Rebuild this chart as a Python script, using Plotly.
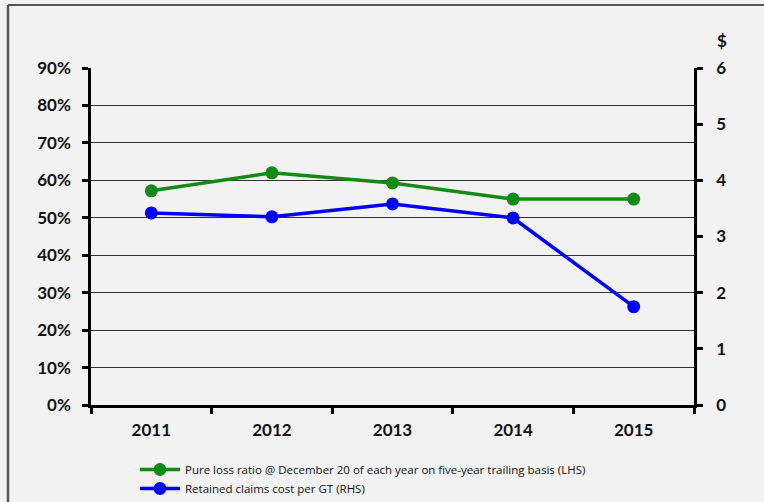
import plotly.graph_objects as go

years = ["2011", "2012", "2013", "2014", "2015"]
loss_ratio = [0.572, 0.62, 0.593, 0.55, 0.55]
claims_cost = [3.42, 3.35, 3.58, 3.33, 1.75]
left_ticks = [0, 0.1, 0.2, 0.3, 0.4, 0.5, 0.6, 0.7, 0.8, 0.9]
right_ticks = [0, 1, 2, 3, 4, 5, 6]
name_green = "Pure loss ratio @ December 20 of each year on five-year trailing basis (LHS)"
name_blue = "Retained claims cost per GT (RHS)"

W, H = 764, 502
L, R, T, B = 91, 70, 68, 97
pw, ph = W - L - R, H - T - B

fig = go.Figure()
fig.add_trace(go.Scatter(x=years, y=loss_ratio, name=name_green, mode="lines+markers",
                         line=dict(color="#138a13", width=3.5),
                         marker=dict(color="#138a13", size=13)))
fig.add_trace(go.Scatter(x=years, y=claims_cost, name=name_blue, mode="lines+markers",
                         yaxis="y2",
                         line=dict(color="#0000ff", width=3.5),
                         marker=dict(color="#0000ff", size=13)))

tickfont = dict(family="Lato", size=17, color="#111111", weight="bold")

fig.update_layout(
    width=W, height=H,
    margin=dict(l=L, r=R, t=T, b=B, autoexpand=False),
    paper_bgcolor="#f2f2f2", plot_bgcolor="#f2f2f2",
    showlegend=True,
    legend=dict(x=(135 - L) / pw, y=-(455 - 405) / ph, xanchor="left", yanchor="top",
                font=dict(family="Open Sans", size=11.5, color="#111111"),
                bgcolor="rgba(0,0,0,0)", tracegroupgap=0, itemwidth=40),
    xaxis=dict(type="category", showgrid=False, showline=True, linecolor="black",
               linewidth=2.5, ticks="outside", tickson="boundaries", ticklen=6,
               tickwidth=2.5, tickcolor="black", tickfont=tickfont,
               ticklabelstandoff=8, zeroline=False, range=[-0.5, 4.5]),
    yaxis=dict(range=[0, 0.9], tickvals=left_ticks, tickformat=".0%",
               showgrid=True, gridcolor="#333333", gridwidth=1,
               showline=True, linecolor="black", linewidth=2.5,
               ticks="outside", ticklen=6, tickwidth=2.5, tickcolor="black",
               tickfont=tickfont, ticklabelstandoff=8, zeroline=False),
    yaxis2=dict(range=[0, 6], tickvals=right_ticks, overlaying="y", side="right",
                showgrid=False, showline=True, linecolor="black", linewidth=2.5,
                ticks="outside", ticklen=6, tickwidth=2.5, tickcolor="black",
                tickfont=tickfont, ticklabelstandoff=10, zeroline=False),
)

fig.add_annotation(x=(722 - L) / pw, y=(405 - 40) / ph, xref="paper", yref="paper",
                   xanchor="center", yanchor="middle",
                   text="$", showarrow=False, font=tickfont)

# outer frame
fig.add_shape(type="line", xref="paper", yref="paper",
              x0=(8 - L) / pw, x1=(8 - L) / pw, y0=(405 - 5) / ph, y1=(405 - 510) / ph,
              line=dict(color="#555555", width=2.5))
fig.add_shape(type="line", xref="paper", yref="paper",
              x0=(8 - L) / pw, x1=(770 - L) / pw, y0=(405 - 5) / ph, y1=(405 - 5) / ph,
              line=dict(color="#555555", width=2))

fig.write_html("out.html")
